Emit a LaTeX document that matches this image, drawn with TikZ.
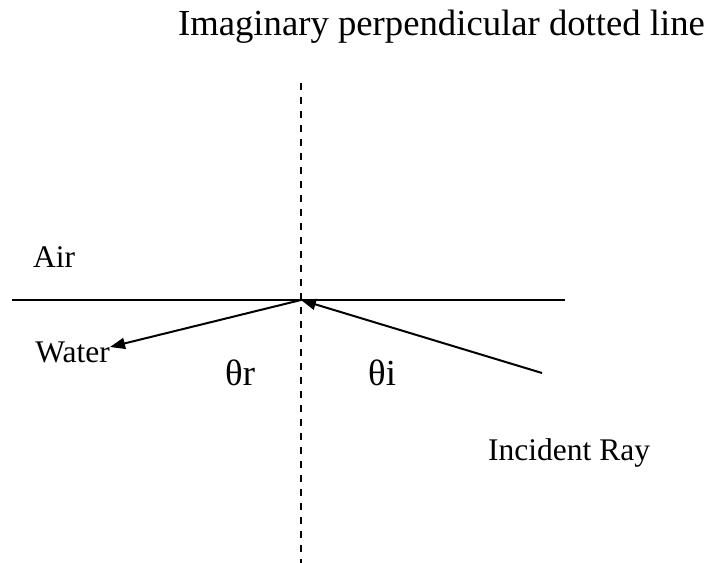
\documentclass[tikz,border=0pt]{standalone}
\usepackage{fontspec}
\setmainfont{Liberation Serif}
\usetikzlibrary{arrows.meta}

\begin{document}
\begin{tikzpicture}[
  x=1pt, y=-1pt,
  lbl/.style={inner sep=0pt, font=\fontsize{31.5}{36}\selectfont},
  big/.style={inner sep=0pt, font=\fontsize{36.7}{42}\selectfont},
  arr/.style={-{Triangle[length=15pt, width=11pt]}, line width=2pt},
  surf/.style={line width=1.6pt},
  normal/.style={line width=2pt, dash pattern=on 7pt off 7pt},
]
  \useasboundingbox (0,0) rectangle (716,563);
  % points on the surface and the rays
  \coordinate (O)    at (301,300);
  \coordinate (sl)   at (12,300);
  \coordinate (sr)   at (565,300);
  \coordinate (ntop) at (301,83);
  \coordinate (nbot) at (301,563);
  \coordinate (inc)  at (542,373);
  \coordinate (refr) at (110,347);
  % surface and normal
  \draw[surf] (sl) -- (sr);
  \draw[normal] (ntop) -- (nbot);
  % rays
  \draw[arr] (inc) -- (O);
  \draw[arr] (O) -- (refr);
  % labels
  \node[big, anchor=base]      (title) at (441.5,35) {Imaginary perpendicular dotted line};
  \node[lbl, anchor=base west] (air)   at (33,267)   {Air};
  \node[lbl, anchor=base east] (water) at (110,362)  {Water};
  \node[big, anchor=base west] (thr)   at (225,385)  {θr};
  \node[big, anchor=base west] (thi)   at (368,385)  {θi};
  \node[lbl, anchor=base west] (ray)   at (488,460)  {Incident Ray};
\end{tikzpicture}
\end{document}
